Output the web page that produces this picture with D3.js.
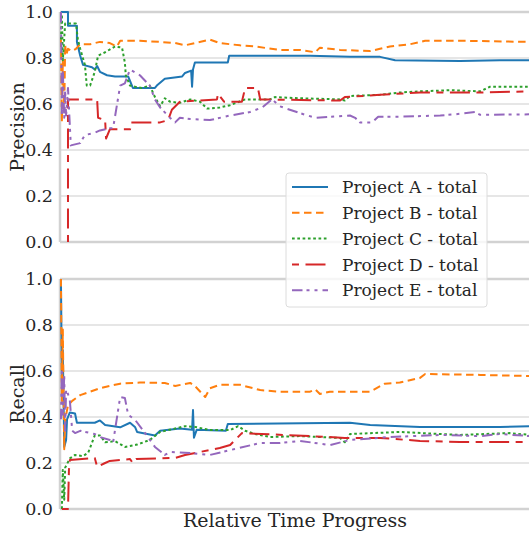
<!DOCTYPE html>
<html>
<head>
<meta charset="utf-8">
<script src="https://cdn.jsdelivr.net/npm/d3@7"></script>
<style>
  html, body { margin: 0; padding: 0; background: #fff; }
  svg { display: block; font-family: "DejaVu Serif", serif; }
</style>
</head>
<body>
<svg id="chart" width="529" height="533"></svg>
<script>
// precision / recall over relative time, five projects, two stacked panels
const projects = ['Project A - total', 'Project B - total', 'Project C - total', 'Project D - total', 'Project E - total'];
const colors = ['#1f77b4', '#ff7f0e', '#2ca02c', '#d62728', '#9467bd'];
const dashes = [null, '7.5,4.5', '2.7,2.6', '7,6.5,20,6.5', '10.5,4,3,5,3,5'];
const yTicks = [0, 0.2, 0.4, 0.6, 0.8, 1.0];

// [relative time, value]
const precisionA = [[0.002,1.0],[0.017,1.0],[0.017,0.94],[0.036,0.94],[0.036,0.87],[0.043,0.81],[0.049,0.77],[0.068,0.76],[0.074,0.75],[0.079,0.765],[0.085,0.74],[0.100,0.725],[0.117,0.72],[0.145,0.72],[0.149,0.70],[0.155,0.67],[0.202,0.67],[0.206,0.68],[0.223,0.71],[0.260,0.72],[0.266,0.735],[0.279,0.745],[0.281,0.675],[0.283,0.75],[0.287,0.78],[0.357,0.78],[0.360,0.81],[0.532,0.81],[0.617,0.805],[0.681,0.805],[0.713,0.79],[0.851,0.787],[0.936,0.79],[1.0,0.79]];
const precisionB = [[0.002,0.88],[0.004,0.52],[0.006,0.79],[0.009,0.57],[0.011,0.86],[0.013,0.81],[0.017,0.84],[0.026,0.83],[0.034,0.84],[0.043,0.86],[0.064,0.86],[0.085,0.87],[0.106,0.865],[0.121,0.85],[0.128,0.875],[0.170,0.875],[0.213,0.87],[0.245,0.865],[0.266,0.855],[0.287,0.865],[0.319,0.88],[0.340,0.865],[0.383,0.855],[0.415,0.85],[0.468,0.835],[0.511,0.835],[0.543,0.825],[0.553,0.845],[0.596,0.835],[0.660,0.83],[0.681,0.84],[0.702,0.85],[0.745,0.86],[0.777,0.875],[0.851,0.875],[1.0,0.87]];
const precisionC = [[0.002,0.88],[0.004,0.99],[0.006,0.79],[0.011,0.95],[0.034,0.95],[0.038,0.88],[0.043,0.84],[0.053,0.77],[0.057,0.68],[0.064,0.68],[0.074,0.74],[0.081,0.81],[0.096,0.825],[0.117,0.85],[0.132,0.845],[0.138,0.78],[0.140,0.725],[0.149,0.68],[0.160,0.675],[0.174,0.67],[0.191,0.68],[0.202,0.63],[0.213,0.59],[0.223,0.625],[0.234,0.61],[0.255,0.605],[0.277,0.62],[0.298,0.61],[0.313,0.58],[0.340,0.585],[0.362,0.595],[0.394,0.62],[0.447,0.62],[0.457,0.63],[0.511,0.625],[0.596,0.62],[0.606,0.615],[0.617,0.635],[0.681,0.64],[0.723,0.65],[0.766,0.655],[0.830,0.66],[0.894,0.655],[0.915,0.675],[1.0,0.675]];
const precisionD = [[0.017,0.0],[0.017,0.62],[0.079,0.62],[0.081,0.54],[0.096,0.53],[0.098,0.45],[0.106,0.49],[0.149,0.49],[0.151,0.52],[0.213,0.52],[0.230,0.53],[0.238,0.575],[0.255,0.61],[0.334,0.62],[0.336,0.645],[0.349,0.61],[0.387,0.61],[0.394,0.67],[0.421,0.67],[0.426,0.62],[0.596,0.615],[0.606,0.63],[0.681,0.64],[0.766,0.65],[0.894,0.65],[1.0,0.655]];
const precisionE = [[0.002,1.0],[0.004,0.55],[0.006,0.75],[0.009,0.54],[0.011,0.66],[0.013,0.55],[0.017,0.67],[0.023,0.42],[0.043,0.43],[0.053,0.465],[0.074,0.475],[0.085,0.485],[0.106,0.495],[0.113,0.495],[0.128,0.68],[0.138,0.69],[0.149,0.75],[0.170,0.725],[0.191,0.68],[0.202,0.62],[0.213,0.585],[0.234,0.54],[0.245,0.52],[0.255,0.54],[0.277,0.535],[0.319,0.53],[0.362,0.55],[0.404,0.565],[0.430,0.585],[0.451,0.62],[0.468,0.59],[0.489,0.575],[0.511,0.56],[0.543,0.54],[0.617,0.55],[0.628,0.54],[0.638,0.52],[0.664,0.52],[0.677,0.545],[0.723,0.545],[0.809,0.55],[0.840,0.555],[0.883,0.565],[0.894,0.553],[1.0,0.555]];

const recallA = [[0.002,1.0],[0.004,0.56],[0.006,0.69],[0.009,0.27],[0.013,0.30],[0.015,0.39],[0.021,0.42],[0.032,0.415],[0.036,0.375],[0.074,0.375],[0.085,0.385],[0.096,0.365],[0.128,0.355],[0.149,0.375],[0.160,0.355],[0.164,0.335],[0.202,0.32],[0.213,0.34],[0.255,0.35],[0.281,0.345],[0.283,0.43],[0.285,0.31],[0.291,0.345],[0.353,0.34],[0.357,0.37],[0.617,0.375],[0.660,0.365],[0.766,0.357],[0.936,0.357],[1.0,0.36]];
const recallB = [[0.002,1.0],[0.004,0.47],[0.006,0.78],[0.009,0.26],[0.011,0.39],[0.017,0.45],[0.026,0.47],[0.043,0.495],[0.064,0.51],[0.085,0.525],[0.106,0.535],[0.128,0.545],[0.170,0.55],[0.223,0.548],[0.245,0.535],[0.277,0.548],[0.287,0.535],[0.309,0.487],[0.319,0.525],[0.340,0.54],[0.383,0.54],[0.426,0.517],[0.468,0.51],[0.532,0.51],[0.543,0.52],[0.553,0.5],[0.574,0.51],[0.660,0.51],[0.691,0.545],[0.723,0.55],[0.766,0.57],[0.777,0.587],[0.894,0.583],[1.0,0.578]];
const recallC = [[0.004,0.0],[0.006,0.17],[0.009,0.04],[0.011,0.18],[0.021,0.22],[0.032,0.235],[0.049,0.23],[0.060,0.245],[0.074,0.32],[0.085,0.32],[0.096,0.29],[0.117,0.295],[0.138,0.27],[0.164,0.28],[0.191,0.30],[0.213,0.335],[0.245,0.35],[0.266,0.36],[0.287,0.357],[0.319,0.343],[0.362,0.343],[0.379,0.36],[0.394,0.34],[0.415,0.326],[0.447,0.313],[0.511,0.317],[0.596,0.309],[0.606,0.29],[0.617,0.326],[0.723,0.335],[0.809,0.326],[0.851,0.322],[0.957,0.33],[1.0,0.322]];
const recallD = [[0.004,0.0],[0.017,0.0],[0.019,0.17],[0.021,0.213],[0.074,0.222],[0.079,0.183],[0.096,0.2],[0.106,0.209],[0.149,0.217],[0.155,0.2],[0.162,0.217],[0.245,0.222],[0.266,0.235],[0.298,0.248],[0.340,0.265],[0.362,0.278],[0.387,0.33],[0.532,0.317],[0.606,0.309],[0.681,0.309],[0.766,0.296],[0.851,0.291],[1.0,0.291]];
const recallE = [[0.002,0.39],[0.004,0.61],[0.006,0.41],[0.009,0.58],[0.011,0.34],[0.013,0.52],[0.017,0.5],[0.021,0.47],[0.026,0.34],[0.032,0.33],[0.043,0.34],[0.074,0.326],[0.085,0.313],[0.106,0.3],[0.113,0.29],[0.128,0.487],[0.138,0.483],[0.145,0.41],[0.160,0.387],[0.181,0.33],[0.202,0.27],[0.223,0.235],[0.234,0.248],[0.277,0.243],[0.319,0.235],[0.372,0.261],[0.426,0.287],[0.468,0.287],[0.511,0.296],[0.574,0.278],[0.617,0.3],[0.702,0.313],[0.809,0.322],[0.894,0.317],[0.936,0.326],[1.0,0.317]];

const precision = [precisionA, precisionB, precisionC, precisionD, precisionE];
const recall = [recallA, recallB, recallC, recallD, recallE];

const svg = d3.select('#chart');
const L = 60, R = 530, textCol = '#262626', gridCol = '#dedede', spineCol = '#d2d2d2';
const x = d3.scaleLinear().domain([0, 1]).range([L, R]);

function panel(series, top, bottom, label, id) {
  const y = d3.scaleLinear().domain([0, 1]).range([bottom, top]);
  const g = svg.append('g');
  g.append('clipPath').attr('id', id).append('rect')
    .attr('x', L).attr('y', top - 2).attr('width', R - L).attr('height', bottom - top + 4);
  g.selectAll('.grid').data(yTicks).join('line')
    .attr('x1', L).attr('x2', R).attr('y1', d => y(d)).attr('y2', d => y(d))
    .attr('stroke', gridCol).attr('stroke-width', 1.5);
  // spines
  g.append('line').attr('x1', L).attr('x2', R).attr('y1', top).attr('y2', top).attr('stroke', spineCol).attr('stroke-width', 2.5);
  g.append('line').attr('x1', L).attr('x2', R).attr('y1', bottom).attr('y2', bottom).attr('stroke', spineCol).attr('stroke-width', 2.5);
  g.append('line').attr('x1', L).attr('x2', L).attr('y1', top).attr('y2', bottom).attr('stroke', spineCol).attr('stroke-width', 2.5);
  g.selectAll('.tick').data(yTicks).join('text')
    .attr('x', 53).attr('y', d => y(d)).attr('dy', '0.36em')
    .attr('text-anchor', 'end').attr('font-size', 17.5).attr('fill', textCol)
    .text(d => d.toFixed(1));
  g.append('text').attr('transform', `translate(24,${(top + bottom) / 2}) rotate(-90)`)
    .attr('text-anchor', 'middle').attr('font-size', 19).attr('fill', textCol).text(label);
  const line = d3.line().x(d => x(d[0])).y(d => y(d[1]));
  const lines = g.append('g').attr('clip-path', `url(#${id})`);
  series.forEach((s, i) => {
    lines.append('path').attr('d', line(s)).attr('fill', 'none')
      .attr('stroke', colors[i]).attr('stroke-width', 2)
      .attr('stroke-dasharray', dashes[i]).attr('stroke-linejoin', 'round');
  });
  return y;
}

panel(precision, 12, 242, 'Precision', 'clipP');
panel(recall, 279, 509, 'Recall', 'clipR');

svg.append('text').attr('x', (L + R) / 2).attr('y', 527).attr('text-anchor', 'middle')
  .attr('font-size', 19).attr('fill', textCol).text('Relative Time Progress');

// legend
const lg = svg.append('g');
lg.append('rect').attr('x', 286).attr('y', 173).attr('width', 201).attr('height', 134).attr('rx', 3)
  .attr('fill', '#fff').attr('fill-opacity', 0.8).attr('stroke', '#dcdcdc').attr('stroke-width', 1);
projects.forEach((p, i) => {
  const yy = 187 + i * 25.8;
  lg.append('line').attr('x1', 292).attr('x2', 328).attr('y1', yy).attr('y2', yy)
    .attr('stroke', colors[i]).attr('stroke-width', 2).attr('stroke-dasharray', dashes[i]);
  lg.append('text').attr('x', 342).attr('y', yy).attr('dy', '0.36em')
    .attr('font-size', 17).attr('fill', textCol).text(p);
});
</script>
</body>
</html>
